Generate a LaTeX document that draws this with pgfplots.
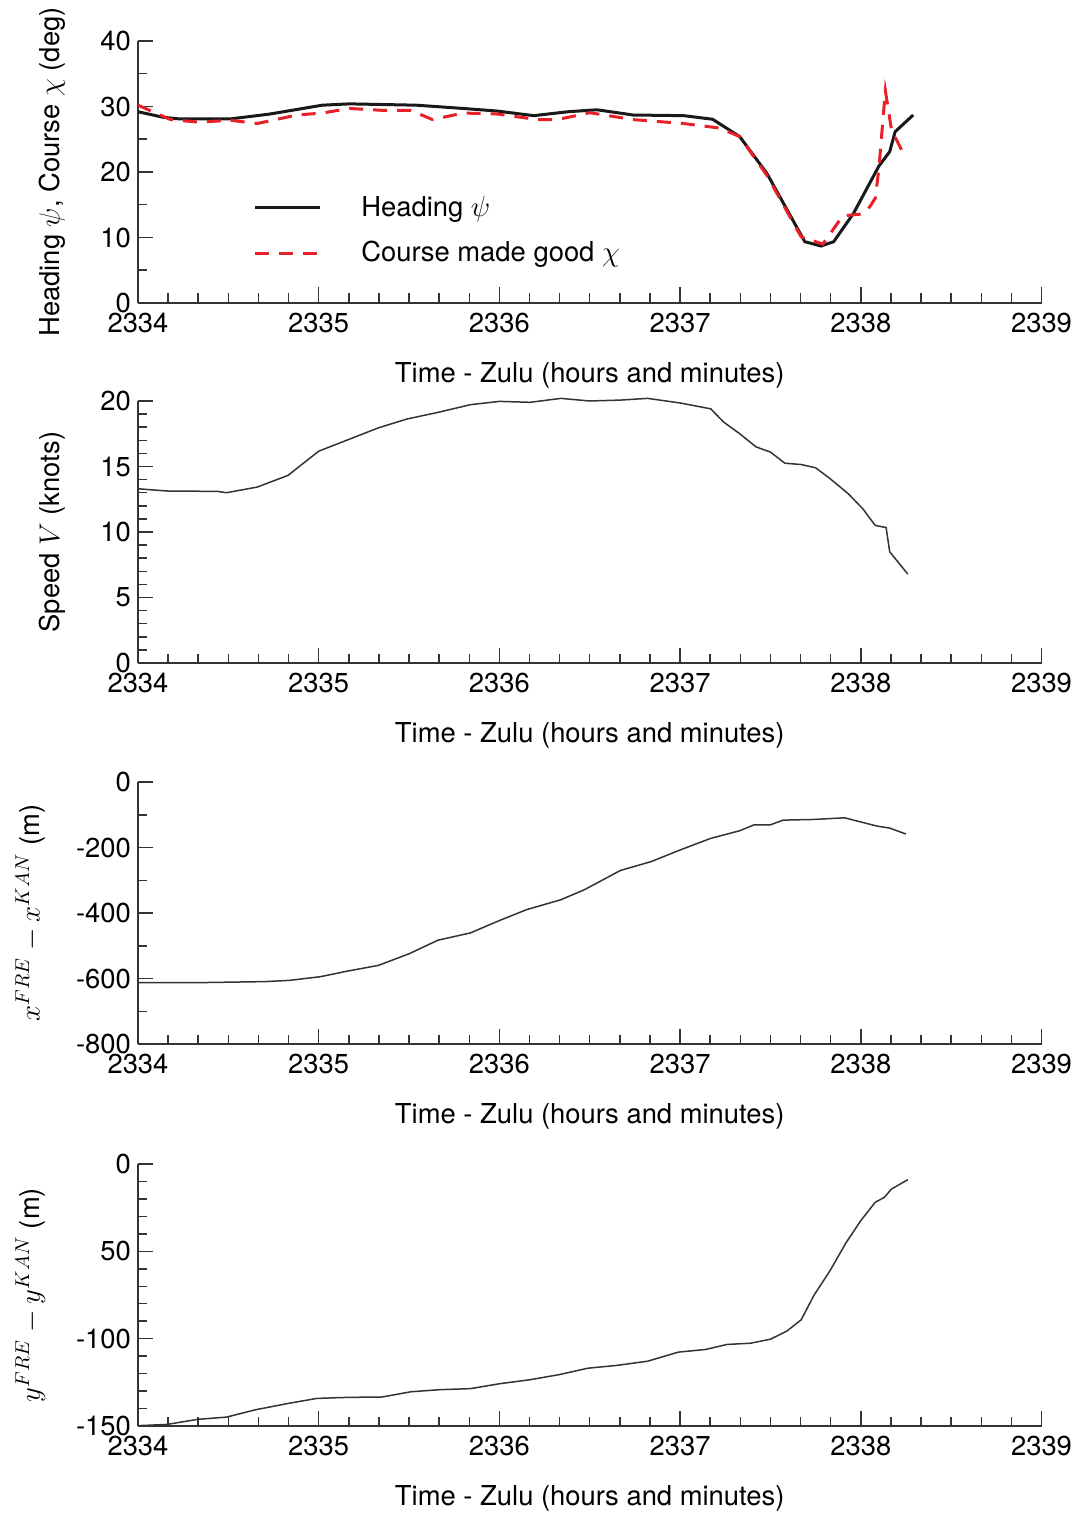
\documentclass[border=0pt]{standalone}
\usepackage{pgfplots}
\pgfplotsset{compat=1.18}
\usepackage{fontspec}
\setmainfont{TeX Gyre Heros}
\definecolor{axgray}{HTML}{333333}
\definecolor{cred}{HTML}{E8202A}
\pgfplotsset{
  myax/.style={
    scale only axis, width=451.75pt, height=131pt,
    axis x line=bottom, axis y line=left,
    axis line style={-, axgray, line width=0.75pt},
    every tick/.style={axgray, line width=0.75pt},
    tick align=inside,
    major tick length=7.75pt, minor tick length=4.75pt,
    xmin=2334, xmax=2339, enlargelimits=false,
    xtick={2334,2335,2336,2337,2338,2339},
    xticklabels={2334,2335,2336,2337,2338,2339},
    xticklabel style={yshift=-1.5pt},
    minor x tick num=5,
    xlabel={Time - Zulu (hours and minutes)},
    xlabel style={at={(axis description cs:0.5,-0.275)}, anchor=center},
    clip=false,
  },
}
\begin{document}
\begin{tikzpicture}[font=\fontsize{13.7}{16}\selectfont]
\path[use as bounding box] (-69pt,151.5pt) rectangle (470pt,-605.5pt);

% Panel 1
\begin{axis}[myax, at={(0pt,0pt)}, anchor=south west,
  ymin=0, ymax=40, ytick={0,10,20,30,40}, yticklabels={0,10,20,30,40},
  minor y tick num=1,
  ylabel={Heading $\psi$, Course $\chi$ (deg)},
  ylabel style={at={(axis description cs:-0.095,0.5)}, anchor=center},
  legend cell align=left,
  legend style={draw=none, fill=none, inner sep=0pt, at={(axis cs:2334.636,16.35)}, anchor=north west,
    nodes={inner sep=0pt}, column sep=20pt, row sep=11pt},
  legend image code/.code={\draw[#1] (0pt,0pt) -- (32.5pt,0pt);},
]
\addplot[color=black!90, line width=1.5pt] coordinates {
(2334.00,29.2) (2334.14,28.35) (2334.23,28.1) (2334.51,28.1) (2334.73,28.85)
(2335.02,30.2) (2335.17,30.4) (2335.54,30.2) (2335.80,29.7) (2335.99,29.3)
(2336.19,28.6) (2336.38,29.2) (2336.54,29.5) (2336.74,28.7) (2337.02,28.6)
(2337.18,28.05) (2337.33,25.4) (2337.48,19.8) (2337.69,9.36) (2337.78,8.7)
(2337.85,9.36) (2337.96,13.7) (2338.10,20.9) (2338.16,23.1) (2338.19,26.15)
(2338.29,28.7)
};
\addlegendentry{Heading $\psi$}
\addplot[color=cred, line width=1.5pt, dash pattern=on 7pt off 5pt] coordinates {
(2334.00,30.2) (2334.18,28.0) (2334.34,27.6) (2334.51,27.9) (2334.66,27.4)
(2334.88,28.7) (2335.02,29.0) (2335.17,29.7) (2335.36,29.4) (2335.51,29.4)
(2335.63,28.0) (2335.80,29.0) (2335.99,28.85) (2336.21,28.0) (2336.32,28.0)
(2336.50,29.05) (2336.74,28.0) (2337.02,27.4) (2337.22,26.7) (2337.33,25.4)
(2337.48,19.5) (2337.67,10.1) (2337.79,9.0) (2337.90,13.3) (2338.01,13.6)
(2338.05,14.7) (2338.08,16.0) (2338.10,20.5) (2338.136,32.4) (2338.17,26.4)
(2338.24,22.6)
};
\addlegendentry{Course made good $\chi$}
\end{axis}

% Panel 2
\begin{axis}[myax, at={(0pt,-180pt)}, anchor=south west,
  ymin=0, ymax=20, ytick={0,5,10,15,20}, yticklabels={0,5,10,15,20},
  minor y tick num=4,
  ylabel={Speed $V$ (knots)},
  ylabel style={at={(axis description cs:-0.095,0.5)}, anchor=center},
]
\addplot[color=axgray, line width=0.75pt] coordinates {
(2334.00,13.3) (2334.16,13.13) (2334.44,13.1) (2334.49,13.0) (2334.66,13.43)
(2334.83,14.32) (2335.00,16.17) (2335.16,17.03) (2335.33,17.95) (2335.49,18.63)
(2335.66,19.13) (2335.84,19.72) (2336.00,19.97) (2336.17,19.9) (2336.34,20.2)
(2336.50,20.0) (2336.67,20.07) (2336.82,20.2) (2337.00,19.85) (2337.17,19.4)
(2337.24,18.4) (2337.33,17.5) (2337.42,16.5) (2337.50,16.1) (2337.58,15.25)
(2337.67,15.15) (2337.75,14.9) (2337.83,14.07) (2337.93,12.93) (2338.01,11.79)
(2338.08,10.5) (2338.14,10.34) (2338.16,8.49) (2338.26,6.79)
};
\end{axis}

% Panel 3
\begin{axis}[myax, at={(0pt,-370.5pt)}, anchor=south west,
  ymin=-800, ymax=0, ytick={-800,-600,-400,-200,0}, yticklabels={-800,-600,-400,-200,0},
  minor y tick num=1,
  ylabel={$x^{FRE} - x^{KAN}$ (m)},
  ylabel style={at={(axis description cs:-0.119,0.5)}, anchor=center},
]
\addplot[color=axgray, line width=0.75pt] coordinates {
(2334.00,-612.6) (2334.34,-612.6) (2334.70,-609.5) (2334.84,-605.6) (2335.01,-594.4)
(2335.16,-577.3) (2335.33,-560) (2335.50,-524.5) (2335.66,-483) (2335.84,-460.7)
(2336.00,-423) (2336.15,-389.8) (2336.34,-359.5) (2336.47,-329) (2336.67,-270)
(2336.84,-243) (2337.00,-207.5) (2337.17,-172) (2337.33,-148.8) (2337.41,-130.6)
(2337.50,-130.6) (2337.57,-116.4) (2337.74,-114.3) (2337.91,-109.3) (2338.09,-134.6)
(2338.16,-140.7) (2338.25,-158.9)
};
\end{axis}

% Panel 4
\begin{axis}[myax, at={(0pt,-561.5pt)}, anchor=south west,
  ymin=-150, ymax=0, ytick={-150,-100,-50,0}, yticklabels={-150,-100,50,0},
  minor y tick num=4,
  ylabel={$y^{FRE} - y^{KAN}$ (m)},
  ylabel style={at={(axis description cs:-0.119,0.5)}, anchor=center},
]
\addplot[color=axgray, line width=0.75pt] coordinates {
(2334.00,-149.8) (2334.16,-149.1) (2334.33,-146.2) (2334.49,-144.9) (2334.65,-140.7)
(2334.84,-136.9) (2334.99,-134.2) (2335.16,-133.6) (2335.35,-133.4) (2335.51,-130.4)
(2335.67,-129.2) (2335.84,-128.6) (2336.00,-125.8) (2336.17,-123.5) (2336.33,-120.6)
(2336.49,-116.9) (2336.65,-115.3) (2336.82,-112.9) (2336.99,-107.7) (2337.14,-106.2)
(2337.26,-103.3) (2337.39,-102.6) (2337.50,-100.3) (2337.59,-95.7) (2337.67,-89.2)
(2337.74,-75.3) (2337.83,-61.0) (2337.92,-44.8) (2338.00,-32.4) (2338.08,-21.9)
(2338.13,-19.1) (2338.17,-14.3) (2338.26,-9.0)
};
\end{axis}
\end{tikzpicture}
\end{document}
